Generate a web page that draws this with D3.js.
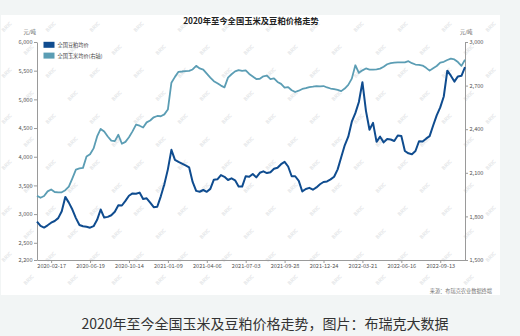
<!DOCTYPE html>
<html>
<head>
<meta charset="utf-8">
<script src="https://cdn.jsdelivr.net/npm/d3@7"></script>
<style>
  html, body { margin: 0; padding: 0; background: #f2f5f5; }
  svg { display: block; }
</style>
</head>
<body>
<svg id="chart" width="520" height="336"></svg>
<script>
// Axis labels along the date axis (category axis, one label every 11 samples)
const dateLabels = ["2020-02-17", "2020-06-19", "2020-10-14", "2021-01-09", "2021-04-06",
  "2021-07-03", "2021-09-28", "2021-12-24", "2022-03-21", "2022-06-16", "2022-09-13"];
const firstLabelIndex = 4;
const labelEvery = 11;

// National average soybean meal price, yuan/ton (left axis)
const soymeal = [
  2868, 2795, 2765, 2805, 2850, 2880, 2930, 3050, 3300, 3200,
  3080, 2930, 2810, 2788, 2780, 2763, 2790, 2900, 3080, 2940,
  2952, 2980, 3040, 3155, 3150, 3230, 3320, 3360, 3355, 3375,
  3265, 3275, 3200, 3120, 3128, 3310, 3520, 3780, 4120, 3945,
  3910, 3880, 3850, 3815, 3560, 3405, 3390, 3420, 3388, 3440,
  3600, 3606, 3680, 3650, 3595, 3624, 3590, 3480, 3480, 3660,
  3650, 3700, 3640, 3720, 3745, 3715, 3730, 3790, 3808, 3870,
  3910, 3830, 3660, 3660, 3580, 3395, 3437, 3458, 3425, 3465,
  3520, 3560, 3570, 3605, 3652, 3780, 3990, 4200, 4350, 4610,
  4760, 4955, 5300, 4800, 4470, 4590, 4260, 4350, 4250, 4310,
  4300, 4275, 4370, 4360, 4100, 4060, 4045, 4100, 4270, 4265,
  4315, 4360, 4545, 4720, 4860, 5050, 5500, 5413, 5310, 5400, 5410, 5560
];

// National average corn price, yuan/ton (right axis)
const corn = [
  1942, 1928, 1940, 1972, 1985, 1968, 1965, 1966, 1980, 2005,
  2062, 2122, 2130, 2134, 2212, 2228, 2268, 2350, 2402, 2384,
  2350, 2322, 2318, 2362, 2300, 2313, 2345, 2385, 2432, 2424,
  2412, 2447, 2460, 2482, 2491, 2489, 2502, 2535, 2720, 2760,
  2795, 2797, 2800, 2801, 2811, 2836, 2818, 2810, 2782, 2755,
  2730, 2716, 2700, 2688, 2755, 2778, 2798, 2807, 2802, 2805,
  2780, 2763, 2745, 2747, 2764, 2768, 2745, 2750, 2725, 2712,
  2686, 2690, 2668, 2656, 2665, 2677, 2682, 2690, 2693, 2697,
  2694, 2697, 2687, 2680, 2675, 2670, 2662, 2680, 2705, 2748,
  2840, 2788, 2805, 2818, 2810, 2810, 2812, 2817, 2830, 2847,
  2855, 2858, 2860, 2860, 2860, 2868, 2854, 2845, 2843, 2838,
  2822, 2803, 2820, 2835, 2858, 2864, 2876, 2885, 2880, 2862, 2836, 2878
];

const leftTicks = [2200, 2500, 3000, 3500, 4000, 4500, 5000, 5500, 6000];
const rightTicks = [1500, 1800, 2100, 2400, 2700, 3000];

const seriesNames = ["全国豆粕均价", "全国玉米均价(右轴)"];
const titleText = "2020年至今全国玉米及豆粕价格走势";
const unitText = "元/吨";
const sourceText = "来源：布瑞克农业数据终端";
const captionText = "2020年至今全国玉米及豆粕价格走势，图片：布瑞克大数据";

const COLOR_SOY = "#0f4c8f";
const COLOR_CORN = "#5b9db4";
const FONT = "'Noto Sans CJK SC', 'Noto Sans', sans-serif";

const svg = d3.select("#chart").style("font-family", FONT);

// card background
svg.append("rect").attr("x", 1).attr("y", 15).attr("width", 499).attr("height", 280).attr("fill", "#ffffff");

// faint repeating watermark
const wm = svg.append("g").attr("fill", "#e4e6e8").attr("font-size", 5).attr("font-weight", "bold");
for (let r = 0; r < 12; r++) {
  for (let c = 0; c < 12; c++) {
    const wx = 8 + c * 44 + (r % 2 ? 22 : 0);
    const wy = 28 + r * 23;
    if (wx > 498 || wy > 293) continue;
    wm.append("text").attr("transform", `translate(${wx},${wy}) rotate(-45)`).attr("text-anchor", "middle").text("BRIC");
  }
}

const m = { left: 37, right: 465, top: 42, bottom: 260 };

const x = d3.scaleLinear().domain([0, soymeal.length - 1]).range([m.left, m.right]);
const yL = d3.scaleLinear().domain([2200, 6000]).range([m.bottom, m.top]);
const yR = d3.scaleLinear().domain([1500, 3000]).range([m.bottom, m.top]);

// title
svg.append("text").attr("x", 251).attr("y", 24).attr("text-anchor", "middle")
  .attr("font-size", 8.3).attr("font-weight", "bold").attr("fill", "#222").text(titleText);

// axes
const fmt = d3.format(",");
function styleAxis(g) {
  g.selectAll(".domain").attr("stroke", "#9a9a9a").attr("stroke-width", 1);
  g.selectAll(".tick line").attr("stroke", "#9a9a9a");
  g.selectAll(".tick text").attr("fill", "#555").attr("font-size", 5.6).attr("font-family", FONT);
}

svg.append("g").attr("transform", `translate(${m.left},0)`)
  .call(d3.axisLeft(yL).tickValues(leftTicks).tickFormat(fmt).tickSize(3).tickSizeOuter(0).tickPadding(1.5))
  .call(styleAxis);

svg.append("g").attr("transform", `translate(${m.right},0)`)
  .call(d3.axisRight(yR).tickValues(rightTicks).tickFormat(fmt).tickSize(3).tickSizeOuter(0).tickPadding(1.5))
  .call(styleAxis);

const labelIdx = dateLabels.map((_, k) => firstLabelIndex + k * labelEvery);
svg.append("g").attr("transform", `translate(0,${m.bottom})`)
  .call(d3.axisBottom(x).tickValues(labelIdx).tickFormat((d, k) => dateLabels[k]).tickSize(3).tickSizeOuter(0).tickPadding(1.5))
  .call(styleAxis);

// units
svg.append("text").attr("x", 36).attr("y", 34).attr("text-anchor", "end")
  .attr("font-size", 5.2).attr("fill", "#555").text(unitText);
svg.append("text").attr("x", 460).attr("y", 34)
  .attr("font-size", 5.2).attr("fill", "#555").text(unitText);

// lines
const lineL = d3.line().x((d, i) => x(i)).y(d => yL(d));
const lineR = d3.line().x((d, i) => x(i)).y(d => yR(d));

svg.append("path").datum(corn).attr("d", lineR).attr("fill", "none")
  .attr("stroke", COLOR_CORN).attr("stroke-width", 1.8).attr("stroke-linejoin", "round");
svg.append("path").datum(soymeal).attr("d", lineL).attr("fill", "none")
  .attr("stroke", COLOR_SOY).attr("stroke-width", 2).attr("stroke-linejoin", "round");

// legend
const legend = svg.append("g");
[COLOR_SOY, COLOR_CORN].forEach((col, k) => {
  legend.append("rect").attr("x", 43.5).attr("y", 41.8 + k * 10.8).attr("width", 11).attr("height", 6).attr("fill", col);
  legend.append("text").attr("x", 57.5).attr("y", 47 + k * 10.8).attr("font-size", 5.2).attr("fill", "#444").text(seriesNames[k]);
});

// source note
svg.append("text").attr("x", 492).attr("y", 293).attr("text-anchor", "end")
  .attr("font-size", 5.2).attr("fill", "#777").text(sourceText);

// caption below the card
svg.append("text").attr("x", 265).attr("y", 329).attr("text-anchor", "middle")
  .attr("font-size", 14).attr("fill", "#333").text(captionText);
</script>
</body>
</html>
